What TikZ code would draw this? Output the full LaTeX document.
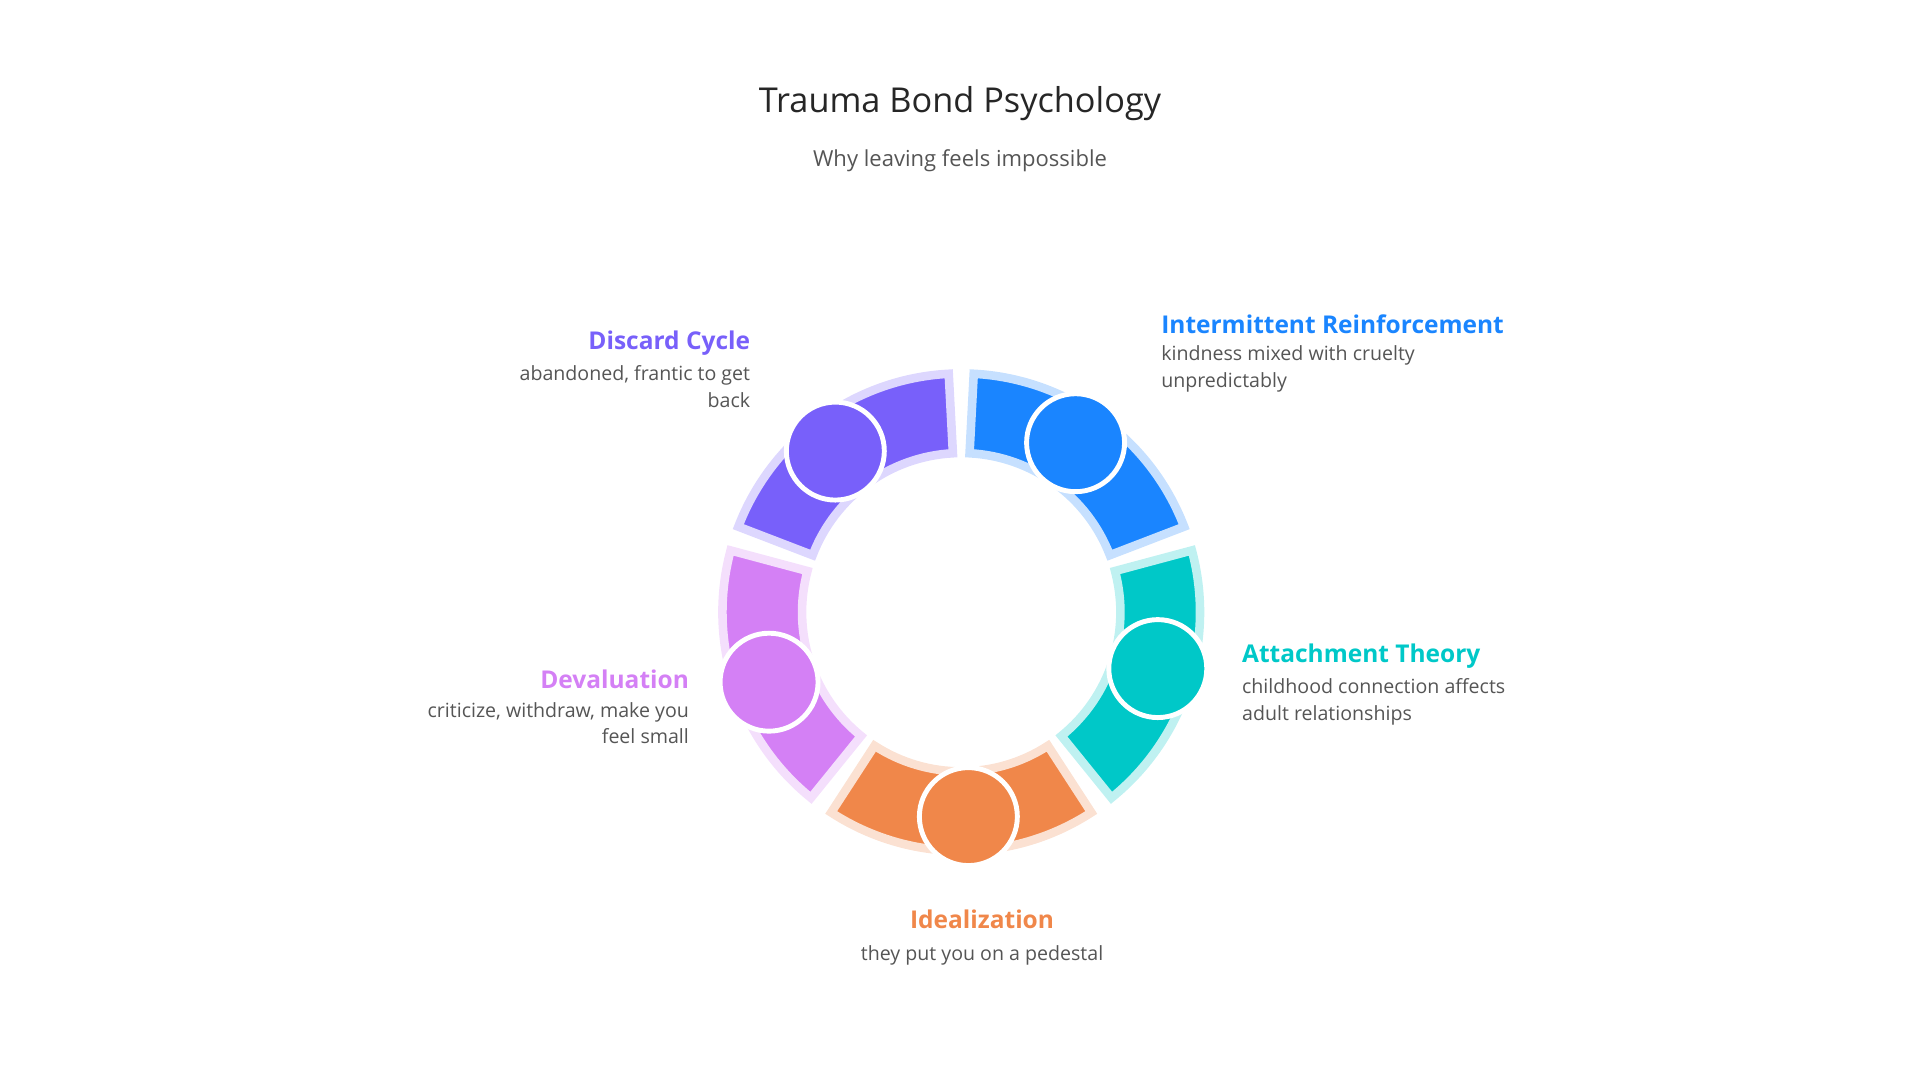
\documentclass[tikz,border=0pt]{standalone}
\usepackage{fontspec}
\setmainfont{Open Sans}
\usetikzlibrary{positioning,calc}
\definecolor{cblue}{HTML}{1A85FF}
\definecolor{cteal}{HTML}{00C8C8}
\definecolor{corange}{HTML}{F0874A}
\definecolor{cpink}{HTML}{D480F5}
\definecolor{cpurple}{HTML}{7860FA}
\definecolor{ctext}{HTML}{555555}
\tikzset{
  head/.style={font=\fontsize{10}{12}\selectfont\bfseries, inner sep=0pt},
  desc/.style={font=\fontsize{8}{11}\selectfont, text=ctext, inner sep=0pt},
  dot/.style={circle, draw=white, line width=2pt, minimum size=40pt, inner sep=0pt}
}
\begin{document}
\begin{tikzpicture}[x=0.5pt, y=0.5pt]
    \useasboundingbox (0,0) rectangle (1568,882);
    \node (title) at (784,797) {\fontsize{14}{16}\selectfont\color{black!85}Trauma Bond Psychology};
    \node[desc] (sub) at (784,751) {\fontsize{9}{11}\selectfont Why leaving feels impossible};

    % ring segments
    \foreach \a/\c in {90/cblue, 18/cteal, -54/corange, -126/cpink, 162/cpurple} {
        \filldraw[fill=\c, draw=\c!25, line width=3.5pt, line join=miter, shift={(785,382)}]
            (\a-3:195) arc (\a-3:\a-69:195) -- (\a-69:130) arc (\a-69:\a-3:130) -- cycle;
    }
    \node[dot, fill=cblue]   (dblue)   at ($(785,382)+(56:167)$)   {};
    \node[dot, fill=cteal]   (dteal)   at ($(785,382)+(-16:167)$)  {};
    \node[dot, fill=corange] (dorange) at ($(785,382)+(-88:167)$)  {};
    \node[dot, fill=cpink]   (dpink)   at ($(785,382)+(-160:167)$) {};
    \node[dot, fill=cpurple] (dpurple) at ($(785,382)+(128:167)$)  {};

    % labels
    \node[head, text=cblue, anchor=west] (hblue) at (948,617) {Intermittent Reinforcement};
    \node[desc, anchor=north west, align=left] (tblue) at (948,600) {kindness mixed with cruelty\\unpredictably};
    \node[head, text=cteal, anchor=west] (hteal) at (1014,346) {Attachment Theory};
    \node[desc, anchor=north west, align=left] (tteal) at (1014,328) {childhood connection affects\\adult relationships};
    \node[head, text=corange] (horange) at (802,131) {Idealization};
    \node[desc] (torange) at (802,102) {they put you on a pedestal};
    \node[head, text=cpink, anchor=east] (hpink) at (563,327) {Devaluation};
    \node[desc, anchor=north east, align=right] (tpink) at (563,309) {criticize, withdraw, make you\\feel small};
    \node[head, text=cpurple, anchor=east] (hpurple) at (613,602) {Discard Cycle};
    \node[desc, anchor=north east, align=right] (tpurple) at (613,584) {abandoned, frantic to get\\back};
\end{tikzpicture}
\end{document}
